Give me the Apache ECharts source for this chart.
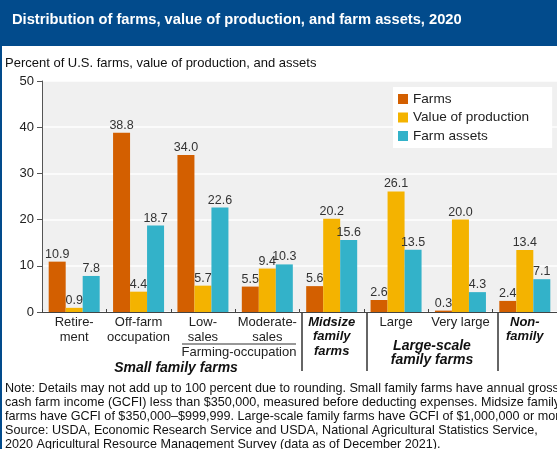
<!DOCTYPE html>
<html>
<head>
<meta charset="utf-8">
<script src="https://cdn.jsdelivr.net/npm/echarts@6/dist/echarts.min.js"></script>
<style>
html,body{margin:0;padding:0;background:#fff;}
#c{width:557px;height:449px;}
</style>
</head>
<body>
<div id="c"></div>
<script>
var categories = ['Retire-\nment', 'Off-farm\noccupation', 'Low-\nsales', 'Moderate-\nsales', 'Midsize\nfamily\nfarms', 'Large', 'Very large', 'Non-\nfamily'];
var boldCategories = ['Midsize\nfamily\nfarms', 'Non-\nfamily'];
var farms = [10.9, 38.8, 34.0, 5.5, 5.6, 2.6, 0.3, 2.4];
var valueOfProduction = [0.9, 4.4, 5.7, 9.4, 20.2, 26.1, 20.0, 13.4];
var farmAssets = [7.8, 18.7, 22.6, 10.3, 15.6, 13.5, 4.3, 7.1];
var seriesNames = ['Farms', 'Value of production', 'Farm assets'];
var yTicks = [0, 10, 20, 30, 40, 50];
var titleText = 'Distribution of farms, value of production, and farm assets, 2020';
var subtitleText = 'Percent of U.S. farms, value of production, and assets';
var noteText = 'Note: Details may not add up to 100 percent due to rounding. Small family farms have annual gross\ncash farm income (GCFI) less than $350,000, measured before deducting expenses. Midsize family\nfarms have GCFI of $350,000\u2013$999,999. Large-scale family farms have GCFI of $1,000,000 or more.\nSource: USDA, Economic Research Service and USDA, National Agricultural Statistics Service,\n2020 Agricultural Resource Management Survey (data as of December 2021).';

var FONT = '"Liberation Sans", Arial, Helvetica, sans-serif';
var colors = ['#D35F00', '#F4B300', '#33B2C9'];

var chart = echarts.init(document.getElementById('c'), null, {renderer: 'canvas'});

function barSeries(name, data, color) {
  return {
    name: name, type: 'bar', data: data, barWidth: 17, barGap: '0%',
    itemStyle: {color: color},
    label: {show: true, position: 'top', distance: 1, color: '#333', fontSize: 12.5, fontFamily: FONT,
      formatter: function (p) { return p.value.toFixed(1); }}
  };
}

var option = {
  animation: false,
  textStyle: {fontFamily: FONT},
  grid: {left: 42, top: 81, width: 520, bottom: 137, show: true, backgroundColor: '#F0F0F0', borderWidth: 0},
  legend: {
    orient: 'vertical', left: 393, top: 87,
    backgroundColor: '#fff', padding: [5, 23, 5, 5], itemGap: 4.5,
    itemWidth: 10, itemHeight: 10, icon: 'rect',
    textStyle: {fontSize: 13.6, color: '#222', fontFamily: FONT},
    data: seriesNames
  },
  xAxis: {
    type: 'category', data: categories,
    axisLine: {lineStyle: {color: '#444', width: 1}},
    axisTick: {show: true, inside: true, length: 3, lineStyle: {color: '#444'}},
    axisLabel: {
      interval: 0, margin: 3, color: '#222', fontSize: 13, lineHeight: 15, fontFamily: FONT,
      formatter: function (v) {
        if (boldCategories.indexOf(v) >= 0) {
          return v.split('\n').map(function (l) { return '{b|' + l + '}'; }).join('\n');
        }
        return v;
      },
      rich: {b: {fontWeight: 'bold', fontStyle: 'italic', fontSize: 13, lineHeight: 14.5, fontFamily: FONT, color: '#111'}}
    }
  },
  yAxis: {
    type: 'value', min: yTicks[0], max: yTicks[yTicks.length - 1], interval: 10,
    axisLine: {show: true, lineStyle: {color: '#555', width: 1}},
    axisTick: {show: true, length: 5, lineStyle: {color: '#555'}},
    axisLabel: {color: '#222', fontSize: 13, margin: 8, fontFamily: FONT},
    splitLine: {show: true, lineStyle: {color: '#fff', width: 1.5}}
  },
  series: [
    barSeries(seriesNames[0], farms, colors[0]),
    barSeries(seriesNames[1], valueOfProduction, colors[1]),
    barSeries(seriesNames[2], farmAssets, colors[2])
  ],
  graphic: [
    {type: 'rect', shape: {x: 0, y: 0, width: 557, height: 46}, style: {fill: '#024B8C'}, z: 0},
    {type: 'rect', shape: {x: 0, y: 46, width: 2, height: 403}, style: {fill: '#024B8C'}, z: 0},
    {type: 'text', left: 12, top: 12, style: {text: titleText, fill: '#fff', font: 'bold 14.7px ' + FONT}},
    {type: 'text', left: 5, top: 57, style: {text: subtitleText, fill: '#111', font: '13px ' + FONT}},
    {type: 'line', shape: {x1: 182, y1: 344, x2: 296, y2: 344}, style: {stroke: '#333', lineWidth: 1.2}},
    {type: 'text', x: 239, y: 346, style: {text: 'Farming-occupation', fill: '#222', font: '13px ' + FONT, align: 'center', verticalAlign: 'top'}},
    {type: 'text', x: 176, y: 361, style: {text: 'Small family farms', fill: '#111', font: 'italic bold 14px ' + FONT, align: 'center', verticalAlign: 'top'}},
    {type: 'text', x: 432, y: 339, style: {text: 'Large-scale\nfamily farms', fill: '#111', font: 'italic bold 14px ' + FONT, lineHeight: 14, align: 'center', verticalAlign: 'top'}},
    {type: 'line', shape: {x1: 302, y1: 313, x2: 302, y2: 371}, style: {stroke: '#333', lineWidth: 1.5}},
    {type: 'line', shape: {x1: 367, y1: 313, x2: 367, y2: 371}, style: {stroke: '#333', lineWidth: 1.5}},
    {type: 'line', shape: {x1: 498, y1: 313, x2: 498, y2: 371}, style: {stroke: '#333', lineWidth: 1.5}},
    {type: 'text', left: 5, top: 382, style: {text: noteText, fill: '#111', font: '12.6px ' + FONT, lineHeight: 13.8}}
  ]
};
chart.setOption(option);
</script>
</body>
</html>
